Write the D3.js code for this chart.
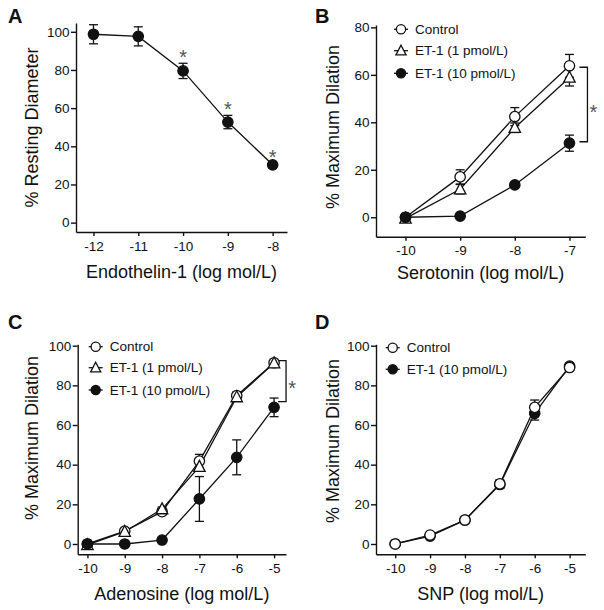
<!DOCTYPE html>
<html lang="en">
<head>
<meta charset="UTF-8">
<title>Endothelin-1 dose responses</title>
<script src="https://d3js.org/d3.v7.min.js"></script>
<style>
  body { margin: 0; background: #fff; }
  svg text { font-family: "Liberation Sans", Arial, sans-serif; fill: #111; }
  .tick line, .domain { stroke: #111; stroke-width: 1.4; }
</style>
</head>
<body>
<div id="chart"></div>
<script>
// ---- data ----
var doseA = [-12, -11, -10, -9, -8];
var restingDiameter = [98.7, 97.6, 79.5, 52.7, 30.3];
var restingDiameterErr = [5, 5, 4, 3.5, 1];
var starDosesA = [-10, -9, -8];

var doseB = [-10, -9, -8, -7];
var serotoninControl = [0, 17, 42.4, 63.8];
var serotoninControlErr = [0.8, 3, 3.8, 4.8];
var serotoninEt1 = [-0.5, 11.8, 37.7, 58.9];
var serotoninEt1Err = [0.5, 2, 2, 3.6];
var serotoninEt10 = [0, 0.5, 13.6, 31.2];
var serotoninEt10Err = [0.5, 0.5, 1, 3.4];

var doseC = [-10, -9, -8, -7, -6, -5];
var adenosineControl = [0, 6.5, 16.3, 41.8, 74.8, 91.4];
var adenosineControlErr = [0.5, 1, 1.5, 3.4, 1.8, 1];
var adenosineEt1 = [-0.5, 6.2, 17.6, 39, 74.1, 91.2];
var adenosineEt1Err = [0.5, 1, 1, 2, 1.5, 1];
var adenosineEt10 = [0, 0, 2, 22.7, 43.7, 68.9];
var adenosineEt10Err = [0.5, 0.5, 0.8, 11.3, 8.8, 4.7];

var doseD = [-10, -9, -8, -7, -6, -5];
var snpControl = [0, 4.5, 12.1, 30.3, 68.9, 89];
var snpControlErr = [0.5, 0.8, 1, 2, 3.7, 1];
var snpEt10 = [0, 4, 12, 30, 65.9, 89.7];
var snpEt10Err = [0.5, 0.8, 1, 2, 3.4, 1];

var ticksA = [-12, -11, -10, -9, -8];
var ticksB = [-10, -9, -8, -7];
var ticksCD = [-10, -9, -8, -7, -6, -5];
var yTicks80 = [0, 20, 40, 60, 80];
var yTicks100 = [0, 20, 40, 60, 80, 100];

var svg = d3.select('#chart').append('svg')
  .attr('width', 604)
  .attr('height', 610);

function zip(xs, ys, es) {
  return xs.map(function(x, i) { return { x: x, y: ys[i], e: es[i] }; });
}

// plain hyphen minus like the original figure
function plain(d) { return String(d); }

function drawPanel(cfg) {
  var x = d3.scaleLinear().domain(cfg.xDomain).range(cfg.xRange);
  var y = d3.scaleLinear().domain(cfg.yDomain).range(cfg.yRange);
  var g = svg.append('g');

  // axes
  var xAxis = d3.axisBottom(x).tickValues(cfg.xTicks).tickFormat(plain)
    .tickSize(4).tickSizeOuter(0).tickPadding(5);
  g.append('g').attr('transform', 'translate(0,' + cfg.yRange[0] + ')').call(xAxis);
  var yAxis = d3.axisLeft(y).tickValues(cfg.yTicks).tickFormat(plain)
    .tickSize(5).tickSizeOuter(0).tickPadding(1.5);
  g.append('g').attr('transform', 'translate(' + cfg.xRange[0] + ',0)').call(yAxis);
  g.selectAll('.tick text')
    .attr('fill', '#111')
    .style('font-family', '"Liberation Sans", Arial, sans-serif')
    .style('font-size', '13.5px');

  // titles
  g.append('text')
    .attr('x', cfg.label[1]).attr('y', cfg.label[2])
    .style('font-size', '20px').style('font-weight', 'bold')
    .text(cfg.label[0]);
  g.append('text')
    .attr('x', d3.mean(cfg.xRange)).attr('y', cfg.xTitleY)
    .attr('text-anchor', 'middle').style('font-size', '18px')
    .text(cfg.xTitle);
  g.append('text')
    .attr('transform', 'translate(' + cfg.yTitleX + ',' + cfg.yTitleMid + ') rotate(-90)')
    .attr('text-anchor', 'middle').style('font-size', '18px')
    .text(cfg.yTitle);

  var line = d3.line().x(function(d) { return x(d.x); }).y(function(d) { return y(d.y); });

  // lines and error bars first
  cfg.series.forEach(function(s) {
    var pts = zip(s.x, s.y, s.e);
    g.append('path').datum(pts).attr('d', line)
      .attr('fill', 'none').attr('stroke', '#111').attr('stroke-width', 1.3);
    var eb = g.append('g').attr('stroke', '#111').attr('stroke-width', 1.3);
    pts.forEach(function(d) {
      var top = y(d.y + d.e), bot = y(d.y - d.e), cx = x(d.x);
      eb.append('line').attr('x1', cx).attr('x2', cx).attr('y1', top).attr('y2', bot);
      eb.append('line').attr('x1', cx - 4.5).attr('x2', cx + 4.5).attr('y1', top).attr('y2', top);
      eb.append('line').attr('x1', cx - 4.5).attr('x2', cx + 4.5).attr('y1', bot).attr('y2', bot);
    });
  });

  // markers
  cfg.series.forEach(function(s) {
    var pts = zip(s.x, s.y, s.e);
    pts.forEach(function(d) { drawMarker(g, s.shape, x(d.x), y(d.y), 5.2); });
  });

  // legend
  if (cfg.legend) {
    cfg.legend.rows.forEach(function(r, i) {
      var ly = cfg.legend.y[i];
      g.append('line')
        .attr('x1', cfg.legend.x - 7).attr('x2', cfg.legend.x + 7)
        .attr('y1', ly).attr('y2', ly)
        .attr('stroke', '#111').attr('stroke-width', 1.3);
      drawMarker(g, r.shape, cfg.legend.x, ly, 4.6);
      g.append('text')
        .attr('x', cfg.legend.x + 14).attr('y', ly + 4.7)
        .style('font-size', '13.5px')
        .text(r.name);
    });
  }

  // significance stars above points
  if (cfg.stars) {
    cfg.stars.forEach(function(dose) {
      var i = cfg.series[0].x.indexOf(dose);
      var s = cfg.series[0];
      g.append('text')
        .attr('x', x(dose)).attr('y', y(s.y[i] + s.e[i]) + 1)
        .attr('text-anchor', 'middle')
        .style('font-size', '20px').style('fill', '#555')
        .text('*');
    });
  }

  // bracket
  if (cfg.bracket) {
    var b = cfg.bracket;
    var bx = x(b.dose) + b.offset;
    var y1 = y(b.from), y2 = y(b.to);
    g.append('path')
      .attr('d', 'M' + (bx - 8) + ',' + y1 + 'H' + bx + 'V' + y2 + 'H' + (bx - 8))
      .attr('fill', 'none').attr('stroke', '#111').attr('stroke-width', 1.3);
    g.append('text')
      .attr('x', bx + 6).attr('y', (y1 + y2) / 2 + 14)
      .attr('text-anchor', 'middle')
      .style('font-size', '20px').style('fill', '#555')
      .text('*');
  }
}

function drawMarker(g, shape, cx, cy, r) {
  if (shape === 'triangle') {
    var h = r * 2.0, w = r * 2.2;
    g.append('path')
      .attr('d', 'M' + cx + ',' + (cy - h * 0.6) + 'L' + (cx + w / 2) + ',' + (cy + h * 0.45) +
        'L' + (cx - w / 2) + ',' + (cy + h * 0.45) + 'Z')
      .attr('fill', '#fff').attr('stroke', '#111').attr('stroke-width', 1.3);
  } else {
    g.append('circle')
      .attr('cx', cx).attr('cy', cy).attr('r', r)
      .attr('fill', shape === 'filled' ? '#111' : '#fff')
      .attr('stroke', '#111').attr('stroke-width', 1.3);
  }
}

var legendNames = ['Control', 'ET-1 (1 pmol/L)', 'ET-1 (10 pmol/L)'];

drawPanel({
  label: ['A', 8, 23],
  xDomain: [-12.39, -7.68], xRange: [76, 287],
  yDomain: [-4.9, 104.6], yRange: [232, 23],
  xTicks: ticksA, yTicks: yTicks100,
  xTitle: 'Endothelin-1 (log mol/L)', xTitleY: 278,
  yTitle: '% Resting Diameter', yTitleX: 38, yTitleMid: 127.5,
  series: [{ x: doseA, y: restingDiameter, e: restingDiameterErr, shape: 'filled' }],
  stars: starDosesA
});

drawPanel({
  label: ['B', 315, 23],
  xDomain: [-10.54, -6.71], xRange: [376, 585.3],
  yDomain: [-8.2, 81], yRange: [236.7, 25],
  xTicks: ticksB, yTicks: yTicks80,
  xTitle: 'Serotonin (log mol/L)', xTitleY: 279,
  yTitle: '% Maximum Dilation', yTitleX: 338.5, yTitleMid: 127,
  series: [
    { x: doseB, y: serotoninControl, e: serotoninControlErr, shape: 'open' },
    { x: doseB, y: serotoninEt1, e: serotoninEt1Err, shape: 'triangle' },
    { x: doseB, y: serotoninEt10, e: serotoninEt10Err, shape: 'filled' }
  ],
  legend: { x: 401, y: [29.3, 50.7, 73.3], rows: [
    { name: legendNames[0], shape: 'open' },
    { name: legendNames[1], shape: 'triangle' },
    { name: legendNames[2], shape: 'filled' }] },
  bracket: { dose: -7, offset: 18, from: 63.2, to: 31.8 }
});

drawPanel({
  label: ['C', 8, 329],
  xDomain: [-10.26, -4.68], xRange: [77.7, 286],
  yDomain: [-5.2, 100.7], yRange: [554.3, 344.3],
  xTicks: ticksCD, yTicks: yTicks100,
  xTitle: 'Adenosine (log mol/L)', xTitleY: 599.5,
  yTitle: '% Maximum Dilation', yTitleX: 37.5, yTitleMid: 438,
  series: [
    { x: doseC, y: adenosineControl, e: adenosineControlErr, shape: 'open' },
    { x: doseC, y: adenosineEt1, e: adenosineEt1Err, shape: 'triangle' },
    { x: doseC, y: adenosineEt10, e: adenosineEt10Err, shape: 'filled' }
  ],
  legend: { x: 95.7, y: [346.7, 367.7, 390], rows: [
    { name: legendNames[0], shape: 'open' },
    { name: legendNames[1], shape: 'triangle' },
    { name: legendNames[2], shape: 'filled' }] },
  bracket: { dose: -5, offset: 12, from: 92.5, to: 71.8 }
});

drawPanel({
  label: ['D', 315, 329],
  xDomain: [-10.55, -4.55], xRange: [376, 585.3],
  yDomain: [-5.2, 100.7], yRange: [554.3, 344.3],
  xTicks: ticksCD, yTicks: yTicks100,
  xTitle: 'SNP (log mol/L)', xTitleY: 599.5,
  yTitle: '% Maximum Dilation', yTitleX: 338.5, yTitleMid: 441,
  series: [
    { x: doseD, y: snpEt10, e: snpEt10Err, shape: 'filled' },
    { x: doseD, y: snpControl, e: snpControlErr, shape: 'open' }
  ],
  legend: { x: 392.7, y: [347.7, 369.3], rows: [
    { name: legendNames[0], shape: 'open' },
    { name: legendNames[2], shape: 'filled' }] }
});
</script>
</body>
</html>
